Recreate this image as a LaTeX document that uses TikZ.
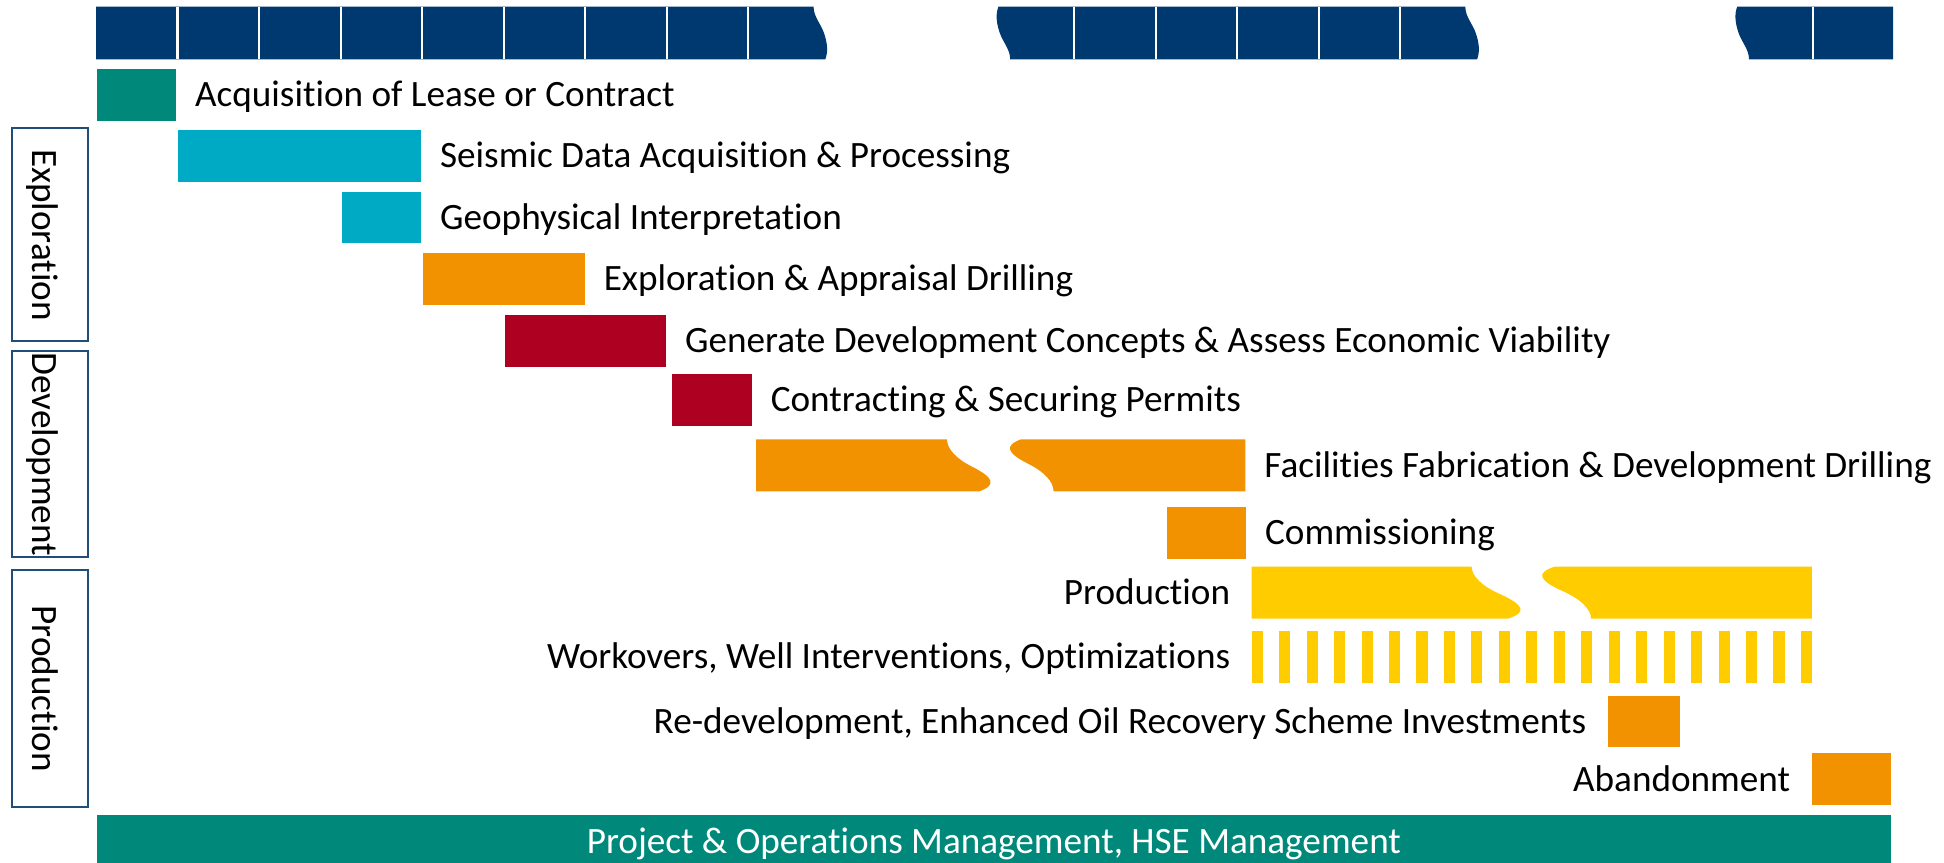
\documentclass[tikz,border=0pt]{standalone}
\usepackage{fontspec}
\setmainfont{Carlito}[Ligatures=NoCommon]
\definecolor{barblue}{RGB}{0,57,112}
\definecolor{phaseblue}{RGB}{31,78,121}
\definecolor{leasegreen}{RGB}{0,137,122}
\definecolor{seiscyan}{RGB}{0,169,196}
\definecolor{drillorange}{RGB}{243,146,0}
\definecolor{devred}{RGB}{174,0,33}
\definecolor{prodyellow}{RGB}{255,204,0}

\begin{document}
\begin{tikzpicture}[x=0.5pt,y=-0.5pt,
        lbl/.style={font=\fontsize{15}{18}\selectfont,inner sep=0pt,text height=9.5pt,text depth=0pt},
        phase/.style={draw=phaseblue,line width=0.8pt},
        topR/.style 2 args={insert path={.. controls ({#1},{#2+8}) and ({#1+6},{#2+14}) .. ({#1+8.5},{#2+21.5}) .. controls ({#1+11},{#2+29}) and ({#1+12},{#2+36}) .. ({#1+9.5},{#2+42.4})}},
        topL/.style 2 args={insert path={.. controls ({#1},{#2+34.4}) and ({#1-6},{#2+28.4}) .. ({#1-8.5},{#2+20.9}) .. controls ({#1-11},{#2+13.4}) and ({#1-12},{#2+6.4}) .. ({#1-9.5},{#2})}},
        barR/.style n args={3}{insert path={.. controls ({#1},{#2+8}) and ({#1+8*#3},{#2+16}) .. ({#1+20.2*#3},{#2+22.1}) .. controls ({#1+38*#3},{#2+31}) and ({#1+40*#3},{#2+37}) .. ({#1+26.1*#3},{#2+42})}},
        barL/.style n args={3}{insert path={.. controls ({#1+86*#3},{#2+34}) and ({#1+78*#3},{#2+26}) .. ({#1+65.8*#3},{#2+19.9}) .. controls ({#1+48*#3},{#2+11}) and ({#1+46*#3},{#2+5}) .. ({#1+59.9*#3},{#2})}}]
    \useasboundingbox (0,0) rectangle (1568,696);
    % time axis
    \fill[barblue] (77.5,5.4) -- (656.2,5.4) [topR={656.2}{5.4}] -- (77.5,47.8) -- cycle;
    \fill[barblue] (814.8,47.8) [topL={814.8}{5.4}] -- (1181.9,5.4) [topR={1181.9}{5.4}] -- cycle;
    \fill[barblue] (1410.7,47.8) [topL={1410.7}{5.4}] -- (1527,5.4) -- (1527,47.8) -- cycle;
    \foreach \k in {1,...,8,12,13,14,15,16}
        \draw[white,line width=0.9pt] ({77.5+65.75*\k},5.4) -- ({77.5+65.75*\k},47.8);
    \draw[white,line width=0.9pt] (1462.5,5.4) -- (1462.5,47.8);
    % phases
    \draw[phase] (9.4,103.6) rectangle (70.7,275.3);
    \node[lbl,rotate=-90] (exploration) at (35.5,189.5) {Exploration};
    \draw[phase] (9.4,283.4) rectangle (70.7,449.3);
    \node[lbl,rotate=-90] (development) at (35.5,366.4) {Development};
    \draw[phase] (9.4,460) rectangle (70.7,651.1);
    \node[lbl,rotate=-90] (production) at (35.5,555.5) {Production};
    % activities
    \fill[leasegreen] (78,55.6) rectangle (142,97.4);
    \node[lbl,anchor=west] (lease) at (157,76.5) {Acquisition of Lease or Contract};
    \fill[seiscyan] (143.8,105) rectangle (339.6,146.8);
    \node[lbl,anchor=west] (seismic) at (354.6,125.9) {Seismic Data Acquisition \& Processing};
    \fill[seiscyan] (275.6,154.6) rectangle (339.6,196.2);
    \node[lbl,anchor=west] (geophys) at (354.6,175.4) {Geophysical Interpretation};
    \fill[drillorange] (341.4,204.3) rectangle (471.6,246);
    \node[lbl,anchor=west] (drilling) at (486.6,225.2) {Exploration \& Appraisal Drilling};
    \fill[devred] (407,254) rectangle (537.2,295.8);
    \node[lbl,anchor=west] (concepts) at (552.2,274.9) {Generate Development Concepts \& Assess Economic Viability};
    \fill[devred] (541.7,301.7) rectangle (606.3,343.6);
    \node[lbl,anchor=west] (permits) at (621.3,322.7) {Contracting \& Securing Permits};
    \fill[drillorange] (609.8,354.3) -- (763.8,354.3) [barR={763.8}{354.3}{1}] -- (609.8,396.3) -- cycle;
    \fill[drillorange] (849.8,396.3) [barL={763.8}{354.3}{1}] -- (1004.5,354.3) -- (1004.5,396.3) -- cycle;
    \node[lbl,anchor=west] (facilities) at (1019.5,375.5) {Facilities Fabrication \& Development Drilling};
    \fill[drillorange] (941.1,409.2) rectangle (1005,450.9);
    \node[lbl,anchor=west] (commission) at (1020,430) {Commissioning};
    \fill[prodyellow] (1009.6,457) -- (1187,457) [barR={1187}{457}{1.12}] -- (1009.6,499) -- cycle;
    \fill[prodyellow] (1283.3,499) [barL={1187}{457}{1.12}] -- (1461.4,457) -- (1461.4,499) -- cycle;
    \node[lbl,anchor=east] (prodlbl) at (992.6,478.3) {Production};
    \foreach \i in {0,...,20}
        \fill[prodyellow] ({1009.6+22.15*\i},508.7) rectangle ++(8.9,41.9);
    \node[lbl,anchor=east] (workover) at (992.6,529.7) {Workovers, Well Interventions, Optimizations};
    \fill[drillorange] (1296.7,561.1) rectangle (1355,602.8);
    \node[lbl,anchor=east] (redev) at (1279.7,582) {Re-development, Enhanced Oil Recovery Scheme Investments};
    \fill[drillorange] (1461.3,607.6) rectangle (1525.3,649.6);
    \node[lbl,anchor=east] (abandon) at (1444.3,628.6) {Abandonment};
    % management
    \fill[leasegreen] (78,657.6) rectangle (1525.3,696);
    \node[lbl,white] (mgmt) at (801.6,679) {Project \& Operations Management, HSE Management};
\end{tikzpicture}
\end{document}
